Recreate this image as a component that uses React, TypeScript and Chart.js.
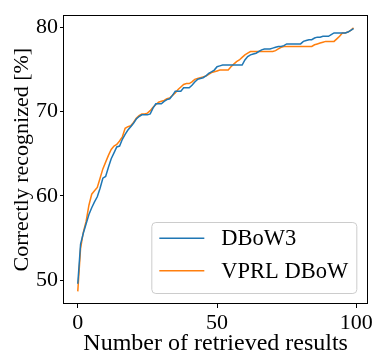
import { useEffect, useRef } from "react";
import { Chart, registerables } from "chart.js";

Chart.register(...registerables);

// Recognition rate (%) against the number of retrieved results (0..99)
const dbow3 = [
  49.6, 54.3, 55.6, 56.7, 57.8, 58.6, 59.3, 59.9, 60.9, 62.1,
  62.3, 63.4, 64.4, 65.1, 65.8, 65.9, 66.7, 67.3, 67.8, 68.2,
  68.6, 69.1, 69.4, 69.6, 69.6, 69.6, 69.7, 70.4, 70.9, 70.9,
  70.9, 71.2, 71.4, 71.5, 71.9, 72.4, 72.4, 72.4, 72.8, 72.8,
  72.8, 73.1, 73.5, 73.8, 73.9, 74.0, 74.2, 74.5, 74.7, 74.9,
  75.3, 75.4, 75.5, 75.5, 75.5, 75.5, 75.5, 75.5, 75.5, 75.5,
  76.1, 76.5, 76.7, 76.8, 76.9, 77.1, 77.3, 77.4, 77.4, 77.4,
  77.5, 77.6, 77.7, 77.7, 77.8, 78.0, 78.0, 78.0, 78.0, 78.0,
  78.0, 78.3, 78.4, 78.5, 78.5, 78.7, 78.8, 78.8, 78.9, 78.9,
  78.9, 79.1, 79.3, 79.3, 79.3, 79.3, 79.3, 79.4, 79.6, 79.8,
];

const vprlDbow = [
  48.7, 53.8, 55.7, 57.0, 58.9, 60.2, 60.6, 61.0, 62.1, 63.2,
  64.0, 64.8, 65.5, 65.9, 66.1, 66.5, 67.0, 68.0, 68.2, 68.3,
  68.7, 69.2, 69.5, 69.7, 69.7, 69.8, 70.1, 70.5, 70.8, 71.1,
  71.2, 71.3, 71.5, 71.6, 71.9, 72.2, 72.6, 72.9, 73.2, 73.3,
  73.3, 73.5, 73.8, 73.9, 74.0, 74.1, 74.2, 74.4, 74.6, 74.7,
  74.8, 74.9, 74.9, 74.9, 74.9, 75.3, 75.6, 75.9, 76.1, 76.4,
  76.7, 76.9, 77.1, 77.1, 77.1, 77.1, 77.1, 77.1, 77.1, 77.1,
  77.1, 77.2, 77.4, 77.6, 77.7, 77.7, 77.7, 77.7, 77.7, 77.7,
  77.7, 77.7, 77.7, 77.7, 77.7, 77.9, 78.0, 78.1, 78.2, 78.3,
  78.3, 78.3, 78.3, 78.6, 78.9, 79.3, 79.3, 79.4, 79.6, 79.9,
];

const seriesLabels = ["DBoW3", "VPRL DBoW"];
const seriesColors = ["#1f77b4", "#ff7f0e"];
const xTicks = [0, 50, 100];
const yTicks = [50, 60, 70, 80];

const FONT_FAMILY = "'Liberation Serif', 'Times New Roman', serif";
const FONT_SIZE = 22;
const LEGEND_FONT_SIZE = 22.5;

const toPoints = (values: number[]) => values.map((y, i) => ({ x: i, y }));

// Closed black frame around the plotting area
const framePlugin = {
  id: "frame",
  afterDraw(chart: Chart) {
    const { ctx, chartArea } = chart;
    ctx.save();
    ctx.strokeStyle = "#000";
    ctx.lineWidth = 1;
    ctx.strokeRect(
      Math.round(chartArea.left) - 0.5,
      Math.round(chartArea.top) + 0.5,
      Math.round(chartArea.right - chartArea.left) + 1,
      Math.round(chartArea.bottom - chartArea.top) - 1
    );
    ctx.restore();
  },
};

// Legend box in the lower-right corner of the plotting area
const insideLegendPlugin = {
  id: "insideLegend",
  afterDraw(chart: Chart) {
    const { ctx, chartArea } = chart;
    const datasets = chart.data.datasets;
    ctx.save();
    ctx.font = `${LEGEND_FONT_SIZE}px ${FONT_FAMILY}`;
    const handleLen = 45;
    const gap = 17;
    const padX = 8;
    const rowH = 32.4;
    const boxW = 205;
    const boxH = 71;
    const right = chartArea.right - 11;
    const bottom = chartArea.bottom - 11;
    const left = right - boxW;
    const top = bottom - boxH;

    ctx.beginPath();
    ctx.roundRect(left + 0.5, top + 0.5, boxW, boxH, 4);
    ctx.fillStyle = "rgba(255,255,255,0.8)";
    ctx.fill();
    ctx.strokeStyle = "#cccccc";
    ctx.lineWidth = 1;
    ctx.stroke();

    datasets.forEach((d, i) => {
      const cy = top + 16.3 + rowH * i;
      ctx.beginPath();
      ctx.strokeStyle = String(d.borderColor);
      ctx.lineWidth = 1.5;
      ctx.moveTo(left + padX, cy);
      ctx.lineTo(left + padX + handleLen, cy);
      ctx.stroke();
      ctx.fillStyle = "#000";
      ctx.textBaseline = "middle";
      ctx.textAlign = "left";
      ctx.fillText(String(d.label), left + padX + handleLen + gap, cy + 1);
    });
    ctx.restore();
  },
};

export default function App() {
  const canvasRef = useRef<HTMLCanvasElement | null>(null);

  useEffect(() => {
    if (!canvasRef.current) return;
    const tickFont = { family: FONT_FAMILY, size: FONT_SIZE };
    const gridOpts = {
      drawOnChartArea: false,
      drawTicks: true,
      tickLength: 4,
      tickWidth: 1,
      tickColor: "#000",
      color: "#000",
    };

    const chart = new Chart(canvasRef.current, {
      type: "line",
      data: {
        datasets: [
          {
            label: seriesLabels[0],
            data: toPoints(dbow3),
            borderColor: seriesColors[0],
            backgroundColor: seriesColors[0],
            borderWidth: 1.5,
            pointRadius: 0,
            tension: 0,
          },
          {
            label: seriesLabels[1],
            data: toPoints(vprlDbow),
            borderColor: seriesColors[1],
            backgroundColor: seriesColors[1],
            borderWidth: 1.5,
            pointRadius: 0,
            tension: 0,
          },
        ],
      },
      options: {
        animation: false,
        responsive: false,
        maintainAspectRatio: false,
        devicePixelRatio: 1,
        layout: { padding: { top: 7, right: 5, left: 0, bottom: 0 } },
        plugins: {
          legend: { display: false },
          tooltip: { enabled: false },
        },
        scales: {
          x: {
            type: "linear",
            min: -4.95,
            max: 103.95,
            afterBuildTicks: (scale: any) => {
              scale.ticks = xTicks.map((value) => ({ value }));
            },
            afterFit: (scale: any) => {
              scale.height = 52;
            },
            ticks: {
              font: tickFont,
              color: "#000",
              padding: 2,
              maxRotation: 0,
              autoSkip: false,
            },
            grid: gridOpts,
            border: { display: false },
            title: {
              display: true,
              text: "Number of retrieved results",
              color: "#000",
              font: { family: FONT_FAMILY, size: 24, lineHeight: 1 },
              padding: { top: 0, bottom: 0 },
            },
          },
          y: {
            type: "linear",
            min: 47.2,
            max: 81.4,
            afterBuildTicks: (scale: any) => {
              scale.ticks = yTicks.map((value) => ({ value }));
            },
            afterFit: (scale: any) => {
              scale.width = 64;
            },
            ticks: {
              font: tickFont,
              color: "#000",
              padding: 2,
              autoSkip: false,
            },
            grid: gridOpts,
            border: { display: false },
            title: {
              display: true,
              text: "Correctly recognized [%]",
              color: "#000",
              font: { family: FONT_FAMILY, size: FONT_SIZE, lineHeight: 1 },
              padding: { top: 11, bottom: 0 },
            },
          },
        },
      },
      plugins: [framePlugin, insideLegendPlugin],
    });

    return () => chart.destroy();
  }, []);

  return (
    <div style={{ position: "fixed", left: 0, top: 0, width: 375, height: 356, background: "#fff" }}>
      <canvas ref={canvasRef} width={375} height={356} style={{ display: "block", width: 375, height: 356 }} />
    </div>
  );
}
